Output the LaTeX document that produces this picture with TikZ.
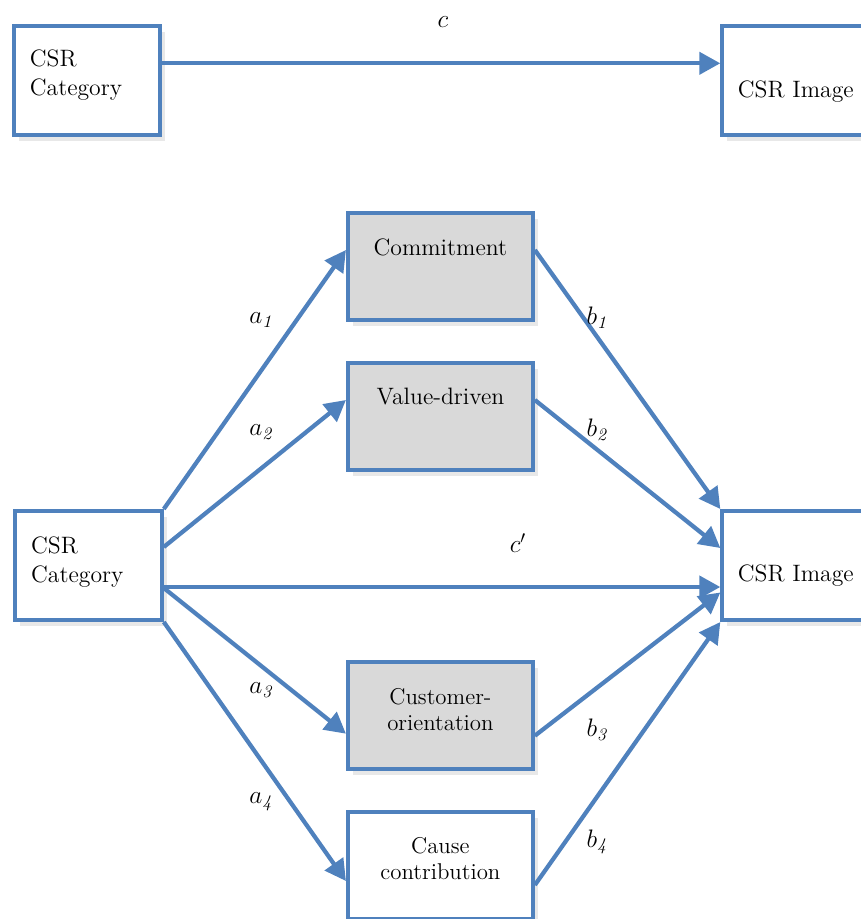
\documentclass[tikz,border=0pt]{standalone}
\usepackage{tikz}
\usetikzlibrary{arrows.meta,%
		positioning,%
		shadows}
\definecolor{csrblue}{RGB}{79,129,189}
\definecolor{csrgray}{RGB}{217,217,217}

\begin{document}
\begin{tikzpicture}[x=0.02cm,y=-0.02cm,
  box/.style={draw=csrblue,line width=0.08cm,fill=white,minimum width=2.94cm,minimum height=2.18cm,
    drop shadow={shadow xshift=0.1cm,shadow yshift=-0.12cm,opacity=0.18}},
  medbox/.style={box,fill=csrgray,minimum width=3.7cm,minimum height=2.14cm},
  whitebox/.style={medbox,fill=white},
  txt/.style={inner sep=0pt,font=\fontsize{13.5}{16.5}\selectfont,align=left},
  smalltxt/.style={txt,font=\fontsize{13}{14.8}\selectfont,align=center},
  lab/.style={inner sep=0pt,font=\fontsize{14.5}{16}\selectfont},
  arr/.style={draw=csrblue,line width=0.085cm,-{Triangle[length=0.42cm,width=0.44cm]}}]
\useasboundingbox (0,0) rectangle (860,919);
%modello totale
\node[box] (catT) at (87,80.7) {};
\node[box] (imgT) at (795.8,80.7) {};
\node[txt, below right=0.5cm and 0.36cm of catT.north west] (catTtxt) {CSR\\Category};
\node[txt, below=1.12cm of imgT.north] (imgTtxt) {CSR Image};
\draw[arr] ([shift={(0,-17.4)}]catT.east) -- ([shift={(0,-17.4)}]imgT.west);
\node[lab] (c) at (443,22) {$c$};
%modello con mediatori
\node[box] (catB) at (88.3,565.5) {};
\node[box] (imgB) at (795.8,565.5) {};
\node[medbox] (commit) at (440.4,266.7) {};
\node[medbox] (value) at (440.4,416.7) {};
\node[medbox] (cust) at (440.4,715.7) {};
\node[whitebox] (cause) at (440.4,865) {};
\node[txt, below right=0.54cm and 0.36cm of catB.north west] (catBtxt) {CSR\\Category};
\node[txt, below=1.11cm of imgB.north] (imgBtxt) {CSR Image};
\node[txt, below=0.55cm of commit.north] (committxt) {Commitment};
\node[txt, below=0.53cm of value.north] (valuetxt) {Value-driven};
\node[smalltxt, below=0.55cm of cust.north] (custtxt) {Customer-\\orientation};
\node[smalltxt, below=0.55cm of cause.north] (causetxt) {Cause\\contribution};
%frecce a
\draw[arr] (catB.north east) -- ([shift={(0,-16.7)}]commit.west);
\draw[arr] ([shift={(0,-18.5)}]catB.east) -- ([shift={(0,-16.7)}]value.west);
\draw[arr] ([shift={(0,21.5)}]catB.east) -- ([shift={(0,21.5)}]imgB.west);
\draw[arr] ([shift={(0,22.5)}]catB.east) -- ([shift={(0,18)}]cust.west);
\draw[arr] (catB.south east) -- ([shift={(0,16)}]cause.west);
%frecce b
\draw[arr] ([shift={(0,-16.7)}]commit.east) -- (imgB.north west);
\draw[arr] ([shift={(0,-16.7)}]value.east) -- ([shift={(0,-17.5)}]imgB.west);
\draw[arr] ([shift={(0,20)}]cust.east) -- ([shift={(0,27)}]imgB.west);
\draw[arr] ([shift={(0,20)}]cause.east) -- (imgB.south west);
%etichette
\node[lab] (a1) at (262,320) {$a_{\mathit{1}}$};
\node[lab] (a2) at (262,432) {$a_{\mathit{2}}$};
\node[lab] (a3) at (262,690) {$a_{\mathit{3}}$};
\node[lab] (a4) at (262,802) {$a_{\mathit{4}}$};
\node[lab] (b1) at (598,318) {$b_{\mathit{1}}$};
\node[lab] (b2) at (598,430) {$b_{\mathit{2}}$};
\node[lab] (b3) at (598,730) {$b_{\mathit{3}}$};
\node[lab] (b4) at (598,842) {$b_{\mathit{4}}$};
\node[lab] (cp) at (518,543) {$c'$};
\end{tikzpicture}
\end{document}
